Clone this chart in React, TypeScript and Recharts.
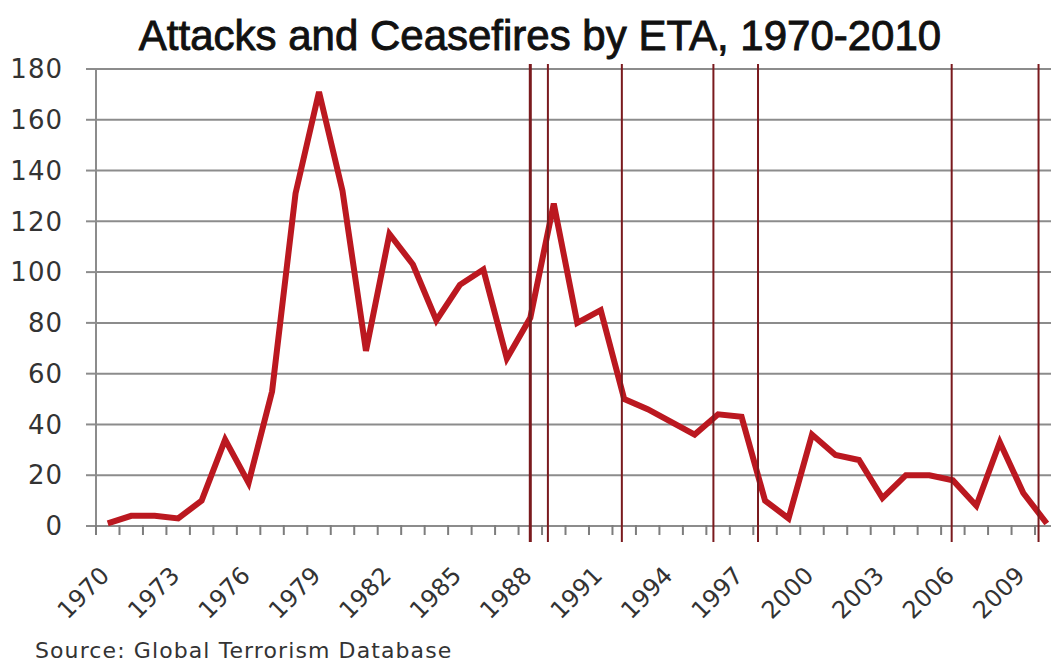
import { LineChart, Line, XAxis, YAxis, CartesianGrid, ReferenceLine } from 'recharts';

// Yearly attacks attributed to ETA
const years = [
  1970, 1971, 1972, 1973, 1974, 1975, 1976, 1977, 1978, 1979,
  1980, 1981, 1982, 1983, 1984, 1985, 1986, 1987, 1988, 1989,
  1990, 1991, 1992, 1993, 1994, 1995, 1996, 1997, 1998, 1999,
  2000, 2001, 2002, 2003, 2004, 2005, 2006, 2007, 2008, 2009, 2010,
];
const attacks = [
  1, 4, 4, 3, 10, 34, 17, 53, 131, 171,
  132, 69, 115, 103, 81, 95, 101, 66, 82, 127,
  80, 85, 50, 46, 41, 36, 44, 43, 10, 3,
  36, 28, 26, 11, 20, 20, 18, 8, 33, 13, 1,
];
// ceasefire announcements, as fractional years
const ceasefires = [1988.0, 1988.75, 1991.9, 1995.8, 1997.7, 2005.95, 2009.65];
const yTicks = [0, 20, 40, 60, 80, 100, 120, 140, 160, 180];
const yearLabels = [1970, 1973, 1976, 1979, 1982, 1985, 1988, 1991, 1994, 1997, 2000, 2003, 2006, 2009];

const data = years.map((year, i) => ({ year, attacks: attacks[i] }));
// tick marks sit between the years, labels in the middle of each year
const yearBounds = [...years.map((y) => y - 0.5), years[years.length - 1] + 0.5];

const FONT = '"DejaVu Sans", sans-serif';
const GRID = '#8c8c8c';

function YearTick({ x, y, width, payload }: any) {
  const year = payload.value + 0.5;
  const half = width / years.length / 2;
  return (
    <g>
      <rect x={x - 1} y={y - 11} width={2} height={10} fill="#7d7d7d" />
      {yearLabels.includes(year) && (
        <text
          transform={`translate(${x + half + 3},${y + 41}) rotate(-45)`}
          textAnchor="end"
          fontFamily={FONT}
          fontSize={24}
          fill="#333"
        >
          {year}
        </text>
      )}
    </g>
  );
}

function CeaseLine(props: any) {
  const { x1, x2, y1, y2, stroke, strokeWidth } = props;
  return (
    <line
      x1={x1}
      x2={x2}
      y1={Math.min(y1, y2) - 5}
      y2={Math.max(y1, y2) + 16}
      stroke={stroke}
      strokeWidth={strokeWidth}
    />
  );
}

export default function App() {
  return (
    <div
      style={{
        position: 'absolute',
        left: 0,
        top: 0,
        width: 1051,
        height: 663,
        overflow: 'hidden',
        background: '#fff',
      }}
    >
      <LineChart width={1070} height={663} data={data} margin={{ top: 69, right: 11.5, left: 0, bottom: 0 }}>
        <CartesianGrid vertical={false} stroke={GRID} strokeWidth={2} />
        <XAxis
          dataKey="year"
          type="number"
          domain={[1969.5, 2010.5]}
          allowDataOverflow
          ticks={yearBounds}
          interval={0}
          tick={<YearTick />}
          tickSize={10}
          tickMargin={0}
          height={137}
          axisLine={false}
          tickLine={false}
        />
        <YAxis
          domain={[0, 180]}
          ticks={yTicks}
          interval={0}
          width={96}
          tickSize={10}
          tickMargin={23}
          axisLine={{ stroke: GRID, strokeWidth: 2 }}
          tickLine={{ stroke: GRID, strokeWidth: 2 }}
          tick={{ fontFamily: FONT, fontSize: 26, fill: '#333', letterSpacing: 1 }}
        />
        <Line
          dataKey="attacks"
          stroke="#bb1820"
          strokeWidth={6}
          dot={false}
          activeDot={false}
          isAnimationActive={false}
        />
        {ceasefires.map((c, i) => (
          <ReferenceLine
            key={c}
            x={c}
            stroke="#7a1a1e"
            strokeWidth={i === 0 ? 3 : 2}
            shape={<CeaseLine />}
          />
        ))}
      </LineChart>
      <svg
        width={1051}
        height={663}
        style={{ position: 'absolute', left: 0, top: 0, pointerEvents: 'none' }}
      >
        <text
          x={540}
          y={50}
          textAnchor="middle"
          fontFamily='"Liberation Sans", Arial, sans-serif'
          fontSize={42}
          fill="#111"
          stroke="#111"
          strokeWidth={0.9}
        >
          Attacks and Ceasefires by ETA, 1970-2010
        </text>
        <text x={35} y={658} fontFamily={FONT} fontSize={22} letterSpacing={1.1} fill="#333">
          Source: Global Terrorism Database
        </text>
      </svg>
    </div>
  );
}
